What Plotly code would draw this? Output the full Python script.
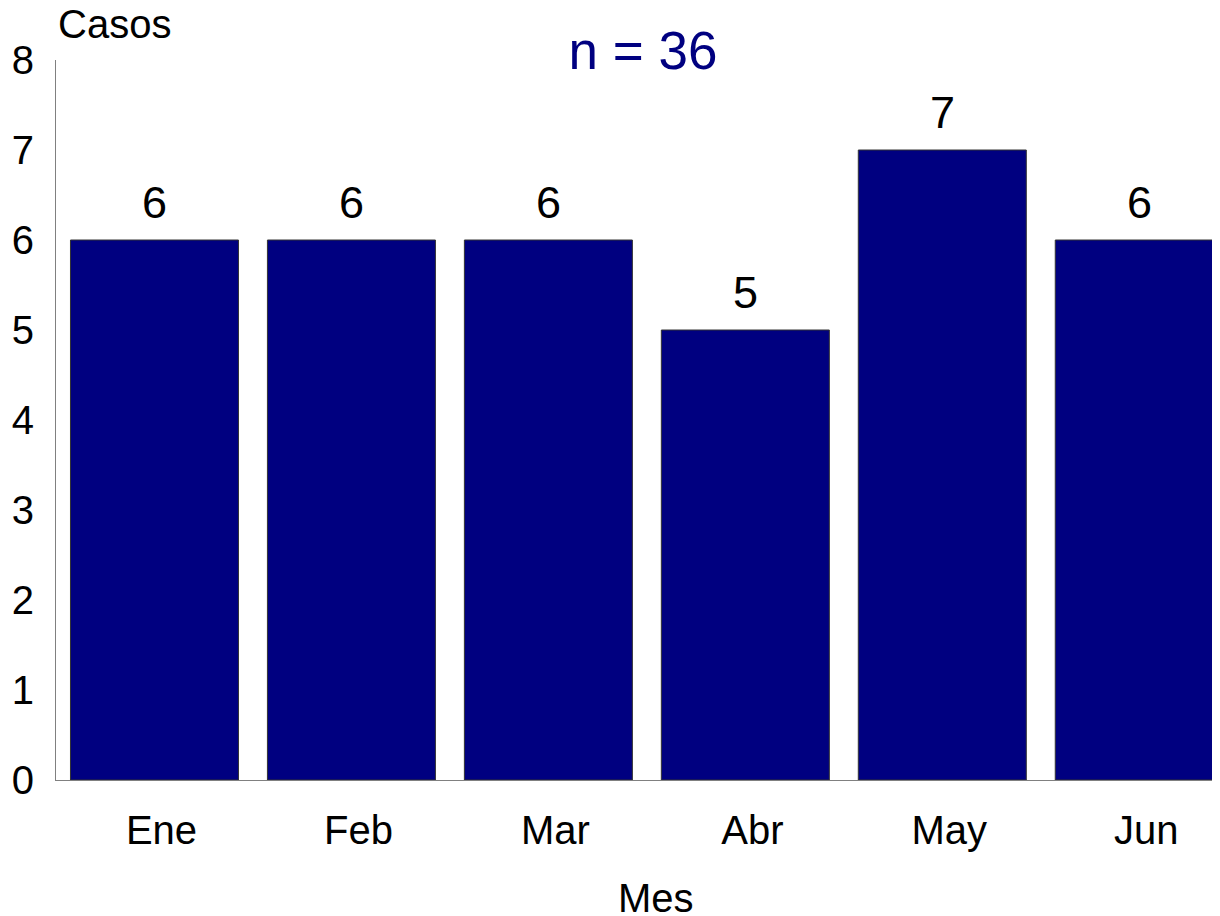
import plotly.graph_objects as go

# datos
meses = ['Ene', 'Feb', 'Mar', 'Abr', 'May', 'Jun']
casos = [6, 6, 6, 5, 7, 6]
y_ticks = [0, 1, 2, 3, 4, 5, 6, 7, 8]
titulo = 'n = 36'

NAVY = '#000080'
FONT = 'Liberation Sans, Arial, sans-serif'

# la pagina tiene 8px de margen en el body, se compensa aqui
W, H = 1212, 908
L, T, B = 48, 52, 136

fig = go.Figure()
fig.add_trace(go.Bar(
    x=meses,
    y=casos,
    marker_color=NAVY,
    marker_line_color='#333333',
    marker_line_width=1,
    hoverinfo='x+y',
))

# etiquetas de valor encima de cada barra
for mes, valor in zip(meses, casos):
    fig.add_annotation(x=mes, y=valor, text=str(valor), showarrow=False,
                       xanchor='center', yanchor='bottom', yshift=10,
                       font=dict(size=45, color='black'))

fig.update_layout(
    width=W,
    height=H,
    margin=dict(l=L, r=0, t=T, b=B),
    plot_bgcolor='white',
    paper_bgcolor='white',
    font=dict(family=FONT, size=40, color='black'),
    bargap=0.147,
    showlegend=False,
    title=dict(text=titulo, x=(643 - 8) / W, xanchor='center', y=1 - (50 - 8) / H,
               yanchor='middle', font=dict(size=53, color=NAVY)),
)
fig.update_xaxes(
    range=[-0.5, 5.41],
    showline=True, linecolor='#808080', linewidth=1,
    showgrid=False, ticks='', ticklabelshift=7, ticklabelstandoff=15,
)
fig.update_yaxes(
    range=[0, 8],
    tickvals=y_ticks,
    showline=True, linecolor='#808080', linewidth=1,
    showgrid=False, zeroline=False, ticks='', ticklabelstandoff=13,
)

fig.add_annotation(text='Casos', xref='paper', yref='paper', x=0, y=1, xanchor='left',
                   yanchor='bottom', yshift=12, showarrow=False, font=dict(size=40))
fig.add_annotation(text='Mes', xref='paper', yref='paper', x=(656 - 56) / (W - L), y=0,
                   xanchor='center', yanchor='middle', yshift=-118, showarrow=False,
                   font=dict(size=40))

fig.write_html("out.html")
